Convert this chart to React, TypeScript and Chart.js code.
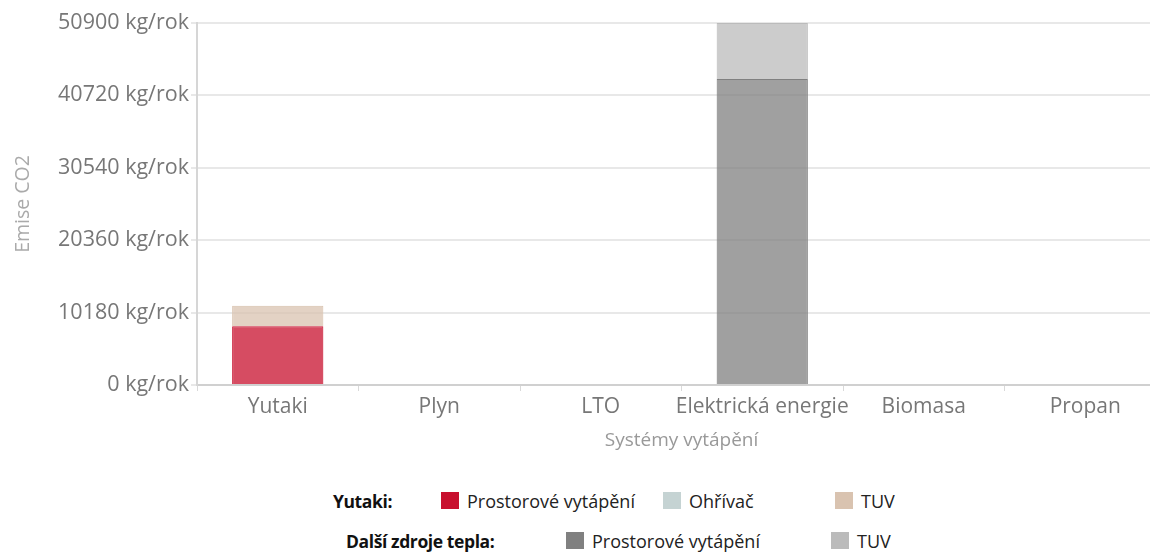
import React, { useEffect, useRef } from "react";
import { Chart, registerables } from "chart.js";

Chart.register(...registerables);

const categories = ["Yutaki", "Plyn", "LTO", "Elektrická energie", "Biomasa", "Propan"];
const yutakiSpaceHeating = [8250, null, null, null, null, null];
const yutakiHeater = [null, null, null, null, null, null];
const yutakiDhw = [2890, null, null, null, null, null];
const otherSpaceHeating = [null, null, null, 43030, null, null];
const otherDhw = [null, null, null, 7870, null, null];
const yMax = 50900;
const yStep = 10180;
const unit = " kg/rok";

const FONT = "'Open Sans', sans-serif";

const COL_RED = "#c8102e";
const COL_HEATER = "#c5d3d3";
const COL_TUV = "#d9c3b0";
const COL_GRAY = "#808080";
const COL_LGRAY = "#bbbbbb";

function alpha(hex: string, a: number) {
  const r = parseInt(hex.slice(1, 3), 16);
  const g = parseInt(hex.slice(3, 5), 16);
  const b = parseInt(hex.slice(5, 7), 16);
  return `rgba(${r},${g},${b},${a})`;
}

export default function App() {
  const ref = useRef<HTMLCanvasElement>(null);
  useEffect(() => {
    if (!ref.current) return;
    const mk = (label: string, data: (number | null)[], c: string) => ({
      label,
      data,
      backgroundColor: alpha(c, 0.75),
      borderColor: c,
      borderWidth: 1,
      stack: "s",
    });
    const chart = new Chart(ref.current, {
      type: "bar",
      data: {
        labels: categories,
        datasets: [
          mk("Yutaki Prostorové vytápění", yutakiSpaceHeating, COL_RED),
          mk("Yutaki Ohřívač", yutakiHeater, COL_HEATER),
          mk("Yutaki TUV", yutakiDhw, COL_TUV),
          mk("Další Prostorové vytápění", otherSpaceHeating, COL_GRAY),
          mk("Další TUV", otherDhw, COL_LGRAY),
        ],
      },
      options: {
        animation: false,
        responsive: true,
        maintainAspectRatio: false,
        layout: { padding: { top: 7, right: 0, bottom: 0, left: 0 } },
        datasets: { bar: { categoryPercentage: 1, barPercentage: 0.565 } },
        plugins: { legend: { display: false }, tooltip: { enabled: false } },
        scales: {
          x: {
            stacked: true,
            grid: { drawOnChartArea: false, drawTicks: true, tickLength: 6, color: "#d9d9d9", lineWidth: 1 },
            border: { display: true, color: "#d0d0d0", width: 2 },
            ticks: { font: { family: FONT, size: 21 }, color: "#777", padding: 3.5, maxRotation: 0, autoSkip: false },
            title: { display: true, text: "Systémy vytápění", font: { family: FONT, size: 19 }, color: "#999", padding: { top: 6, bottom: 4 } },
          },
          y: {
            stacked: true,
            min: 0,
            max: yMax,
            afterFit: (s: any) => { s.width = 189; },
            afterBuildTicks: (s: any) => {
              const t = [];
              for (let v = 0; v <= yMax; v += yStep) t.push({ value: v });
              s.ticks = t;
            },
            grid: { color: "#e8e8e8", lineWidth: 2, drawTicks: true, tickLength: 6 },
            border: { display: true, color: "#d6d6d6", width: 2 },
            ticks: {
              font: { family: FONT, size: 21.5 },
              color: "#777",
              padding: 2,
              callback: (v: any) => `${v}${unit}`,
            },
            title: { display: true, text: "Emise CO2", font: { family: FONT, size: 19.5 }, color: "#aaa", padding: { top: 4, bottom: 0 } },
          },
        },
      },
    });
    return () => chart.destroy();
  }, []);

  const box = (c: string) => (
    <span style={{ display: "inline-block", width: 18, height: 17, background: c, marginRight: 8 }} />
  );
  const item = (c: string, t: string, w?: number) => (
    <span style={{ display: "inline-flex", alignItems: "center", width: w, flex: "none" }}>
      {box(c)}
      <span>{t}</span>
    </span>
  );
  const rowStyle: React.CSSProperties = {
    display: "flex",
    alignItems: "center",
    whiteSpace: "nowrap",
    fontFamily: FONT,
    fontSize: 18,
    color: "#222",
  };
  const labelStyle: React.CSSProperties = { fontWeight: 700, flex: "none", color: "#111", fontSize: 17.5, letterSpacing: -0.4 };
  return (
    <div style={{ width: 1158, fontFamily: FONT }}>
      <div style={{ position: "relative", width: 1158, height: 448 }}>
        <canvas ref={ref} />
      </div>
      <div style={{ ...rowStyle, height: 39, paddingLeft: 325, marginTop: 25 }}>
        <span style={{ ...labelStyle, width: 108 }}>Yutaki:</span>
        {item(COL_RED, "Prostorové vytápění", 222)}
        {item(COL_HEATER, "Ohřívač", 172)}
        {item(COL_TUV, "TUV")}
      </div>
      <div style={{ ...rowStyle, height: 41, paddingLeft: 338 }}>
        <span style={{ ...labelStyle, width: 220 }}>Další zdroje tepla:</span>
        {item(COL_GRAY, "Prostorové vytápění", 265)}
        {item(COL_LGRAY, "TUV")}
      </div>
    </div>
  );
}
